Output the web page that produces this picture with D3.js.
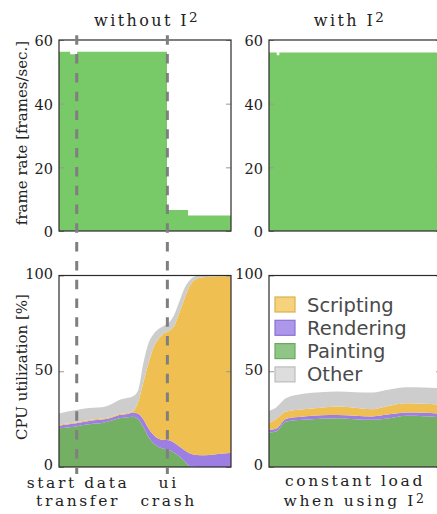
<!DOCTYPE html>
<html>
<head>
<meta charset="utf-8">
<script src="https://cdn.jsdelivr.net/npm/d3@7"></script>
<style>
  html, body { margin: 0; padding: 0; background: #fff; }
  svg { display: block; }
  .serif { font-family: "DejaVu Serif", serif; }
</style>
</head>
<body>
<svg id="chart" width="437" height="514"></svg>
<script>
// ---- data ----------------------------------------------------------------
// frame rate (frames/sec), step series over normalised time 0..100
const fpsTimeWithout = [0, 6.5, 10.5, 62.8, 75, 100];
const fpsWithout     = [56.3, 55.5, 56.3, 6.6, 4.9, 4.9];
const fpsTimeWith    = [0, 4.5, 6.0, 100];
const fpsWith        = [56.1, 55.2, 56.1, 56.1];
const fpsTicks       = [0, 20, 40, 60];

// CPU utilisation (%), per category, without I^2
const cpuTimeWithout     = [0, 5, 10, 15, 20, 25, 30, 35, 40, 43, 46, 49, 52, 55, 58, 61, 64, 67, 70, 73, 76, 80, 85, 90, 95, 100];
const paintingWithout    = [20.2, 20.6, 21.1, 22.0, 22.6, 23.0, 24.1, 25.4, 26.0, 26.3, 25.0, 21.0, 15.8, 12.4, 10.5, 9.5, 8.7, 7.4, 5.5, 3.0, 0.5, 0, 0, 0, 0, 0];
const renderingWithout   = [1.4, 1.6, 1.7, 1.6, 1.8, 1.8, 1.5, 1.8, 1.7, 2.2, 2.8, 4.0, 4.4, 4.3, 4.3, 4.6, 5.3, 5.2, 5.2, 5.8, 6.7, 6.3, 6.2, 6.5, 7.0, 7.5];
const scriptingWithout   = [0.5, 0.5, 0.5, 0.5, 0.5, 0.5, 0.5, 0.5, 0.5, 0.7, 6.2, 19.0, 33.8, 45.8, 52.2, 55.6, 57.0, 61.1, 69.8, 79.2, 87.3, 92.0, 93.0, 93.0, 92.6, 92.1];
const otherWithout       = [5.9, 6.3, 6.5, 6.5, 6.1, 5.9, 6.5, 7.3, 7.9, 7.8, 6.0, 10.0, 10.6, 7.0, 5.2, 4.1, 4.5, 5.8, 6.0, 5.5, 3.0, 1.4, 0.8, 0.5, 0.4, 0.4];

// CPU utilisation (%), per category, with I^2
const cpuTimeWith    = [0, 4, 10, 20, 30, 40, 50, 60, 70, 80, 90, 100];
const paintingWith   = [18.0, 18.5, 23.8, 24.7, 25.2, 25.5, 25.0, 24.7, 25.5, 26.7, 26.5, 26.0];
const renderingWith  = [1.5, 1.5, 1.4, 1.7, 1.8, 1.7, 1.8, 1.7, 2.0, 1.8, 1.8, 1.8];
const scriptingWith  = [3.5, 5.0, 3.8, 3.8, 4.0, 4.4, 4.2, 3.8, 4.5, 4.8, 4.7, 4.7];
const otherWith      = [6.3, 6.0, 7.0, 8.0, 8.0, 7.8, 8.0, 8.7, 8.5, 8.4, 8.5, 8.6];
const cpuTicks       = [0, 50, 100];

const categories = ["painting", "rendering", "scripting", "other"];
const legendLabels = ["Scripting", "Rendering", "Painting", "Other"];
const legendKeys   = ["scripting", "rendering", "painting", "other"];

// marked events on the "without" timeline
const eventTimes  = [10.3, 63.0];
const eventLabels = [["start data", "transfer"], ["ui", "crash"]];

// ---- styling ---------------------------------------------------------------
const areaColor = {
  scripting: "#f0bf52",
  rendering: "#9d7ee3",
  painting:  "#73b063",
  other:     "#cdcdcd"
};
const swatchFill = {
  scripting: "#f5d27b",
  rendering: "#ad97ea",
  painting:  "#8fc585",
  other:     "#dddddd"
};
const swatchStroke = {
  scripting: "#d8b24e",
  rendering: "#8b72d2",
  painting:  "#6ea760",
  other:     "#bdbdbd"
};
const fpsColor = "#78c967";

const svg = d3.select("#chart");

const colX = [59, 269];
const panelW = 172;
const topY = [40, 231];
const botY = [275.5, 467];

const xScales = colX.map(x0 => d3.scaleLinear().domain([0, 100]).range([x0, x0 + panelW]));
const yFps = d3.scaleLinear().domain([0, 60]).range([topY[1], topY[0]]);
const yCpu = d3.scaleLinear().domain([0, 100]).range([botY[1], botY[0]]);

// clip paths for each panel
const defs = svg.append("defs");
colX.forEach((x0, i) => {
  defs.append("clipPath").attr("id", "clipTop" + i)
    .append("rect").attr("x", x0).attr("y", topY[0]).attr("width", panelW).attr("height", topY[1] - topY[0]);
  defs.append("clipPath").attr("id", "clipBot" + i)
    .append("rect").attr("x", x0).attr("y", botY[0]).attr("width", panelW).attr("height", botY[1] - botY[0]);
});

// ---- frame-rate panels ----------------------------------------------------
function drawFps(i, times, values) {
  const x = xScales[i];
  const rows = times.map((t, k) => ({ t, v: values[k] }));
  const area = d3.area()
    .x(d => x(d.t))
    .y0(yFps(0))
    .y1(d => yFps(d.v))
    .curve(d3.curveStepAfter);
  svg.append("path")
    .datum(rows)
    .attr("clip-path", `url(#clipTop${i})`)
    .attr("fill", fpsColor)
    .attr("d", area);
}
drawFps(0, fpsTimeWithout, fpsWithout);
drawFps(1, fpsTimeWith, fpsWith);

// ---- CPU panels -----------------------------------------------------------
function drawCpu(i, times, series) {
  const x = xScales[i];
  const rows = times.map((t, k) => {
    const r = { t };
    categories.forEach(c => { r[c] = series[c][k]; });
    return r;
  });
  const stacked = d3.stack().keys(categories)(rows);
  const area = d3.area()
    .x(d => x(d.data.t))
    .y0(d => yCpu(d[0]))
    .y1(d => yCpu(d[1]))
    .curve(d3.curveMonotoneX);
  svg.append("g")
    .attr("clip-path", `url(#clipBot${i})`)
    .selectAll("path")
    .data(stacked)
    .join("path")
    .attr("fill", d => areaColor[d.key])
    .attr("d", area);
}
drawCpu(0, cpuTimeWithout, {
  painting: paintingWithout, rendering: renderingWithout,
  scripting: scriptingWithout, other: otherWithout
});
drawCpu(1, cpuTimeWith, {
  painting: paintingWith, rendering: renderingWith,
  scripting: scriptingWith, other: otherWith
});

// ---- axes and frames ------------------------------------------------------
function styleAxis(dy) {
  return g => {
    g.select(".domain").remove();
    g.selectAll(".tick line").attr("stroke", "#999").attr("stroke-width", 1);
    g.selectAll(".tick text")
      .attr("class", "serif")
      .attr("font-size", 14.5)
      .attr("dy", dy)
      .attr("fill", "#222");
  };
}

colX.forEach((x0, i) => {
  // frame-rate axes
  svg.append("g")
    .attr("transform", `translate(${x0},0)`)
    .call(d3.axisLeft(yFps).tickValues(fpsTicks).tickSizeInner(-5).tickSizeOuter(0).tickPadding(6))
    .call(styleAxis("0.4em"));
  svg.append("g")
    .attr("transform", `translate(${x0 + panelW},0)`)
    .call(d3.axisRight(yFps).tickValues(fpsTicks).tickSizeInner(-5).tickSizeOuter(0).tickFormat(""))
    .call(styleAxis("0.4em"));
  svg.append("rect")
    .attr("x", x0).attr("y", topY[0])
    .attr("width", panelW).attr("height", topY[1] - topY[0])
    .attr("fill", "none").attr("stroke", "#2a2a2a").attr("stroke-width", 1.2);

  // CPU axes
  svg.append("g")
    .attr("transform", `translate(${x0},0)`)
    .call(d3.axisLeft(yCpu).tickValues(cpuTicks).tickSizeInner(-5).tickSizeOuter(0).tickPadding(6))
    .call(styleAxis("0.2em"));
  svg.append("g")
    .attr("transform", `translate(${x0 + panelW},0)`)
    .call(d3.axisRight(yCpu).tickValues(cpuTicks).tickSizeInner(-5).tickSizeOuter(0).tickFormat(""))
    .call(styleAxis("0.2em"));
  svg.append("rect")
    .attr("x", x0).attr("y", botY[0])
    .attr("width", panelW).attr("height", botY[1] - botY[0])
    .attr("fill", "none").attr("stroke", "#2a2a2a").attr("stroke-width", 1.2);
});

// ---- legend (inside the "with" CPU panel) ---------------------------------
const legend = svg.append("g").attr("transform", "translate(275,297)");
const legendRow = 23.3;
legend.selectAll("rect")
  .data(legendKeys)
  .join("rect")
  .attr("x", 0)
  .attr("y", (d, k) => k * legendRow)
  .attr("width", 20)
  .attr("height", 15)
  .attr("fill", d => swatchFill[d])
  .attr("stroke", d => swatchStroke[d])
  .attr("stroke-width", 1.2);
legend.selectAll("text")
  .data(legendLabels)
  .join("text")
  .attr("x", 32)
  .attr("y", (d, k) => k * legendRow + 14.5)
  .attr("font-family", "'DejaVu Sans', sans-serif")
  .attr("font-size", 19.5)
  .attr("fill", "#4a4a4a")
  .text(d => d);

// ---- event markers --------------------------------------------------------
const xW = xScales[0];
svg.selectAll("line.event")
  .data(eventTimes)
  .join("line")
  .attr("class", "event")
  .attr("x1", d => xW(d)).attr("x2", d => xW(d))
  .attr("y1", 35.3).attr("y2", 474)
  .attr("stroke", "#7f7f7f")
  .attr("stroke-width", 3)
  .attr("stroke-dasharray", "9.5,9.3");

const labelFont = 15.5;
const labelSpacing = 2.6;
eventTimes.forEach((t, k) => {
  const txt = svg.append("text")
    .attr("class", "serif")
    .attr("font-size", labelFont)
    .attr("letter-spacing", labelSpacing)
    .attr("text-anchor", "middle")
    .attr("fill", "#222");
  eventLabels[k].forEach((line, j) => {
    txt.append("tspan")
      .attr("x", xW(t) + labelSpacing / 2)
      .attr("y", 488 + j * 18)
      .text(line);
  });
});

// caption under the "with" panel
const cap = svg.append("text")
  .attr("class", "serif")
  .attr("font-size", labelFont)
  .attr("letter-spacing", labelSpacing)
  .attr("text-anchor", "middle")
  .attr("fill", "#222");
cap.append("tspan").attr("x", colX[1] + panelW / 2).attr("y", 486).text("constant load");
const capLine2 = cap.append("tspan").attr("x", colX[1] + panelW / 2).attr("y", 506);
capLine2.append("tspan").text("when using I");
capLine2.append("tspan").attr("font-size", 12.5).attr("dy", -3.5).text("2");

// ---- panel titles ---------------------------------------------------------
const titles = ["without I", "with I"];
const titleX = [147, 350];
titles.forEach((t, i) => {
  const tt = svg.append("text")
    .attr("class", "serif")
    .attr("x", titleX[i])
    .attr("y", 26)
    .attr("font-size", 16)
    .attr("letter-spacing", 2.4)
    .attr("text-anchor", "middle")
    .attr("fill", "#222");
  tt.append("tspan").text(t);
  tt.append("tspan").attr("font-size", 13.5).attr("dy", -4).text("2");
});

// ---- y-axis titles --------------------------------------------------------
svg.append("text")
  .attr("class", "serif")
  .attr("transform", "translate(27,133) rotate(-90)")
  .attr("text-anchor", "middle")
  .attr("font-size", 15)
  .attr("fill", "#222")
  .text("frame rate [frames/sec.]");
svg.append("text")
  .attr("class", "serif")
  .attr("transform", "translate(27,367) rotate(-90)")
  .attr("text-anchor", "middle")
  .attr("font-size", 15)
  .attr("fill", "#222")
  .text("CPU utilization [%]");
</script>
</body>
</html>
